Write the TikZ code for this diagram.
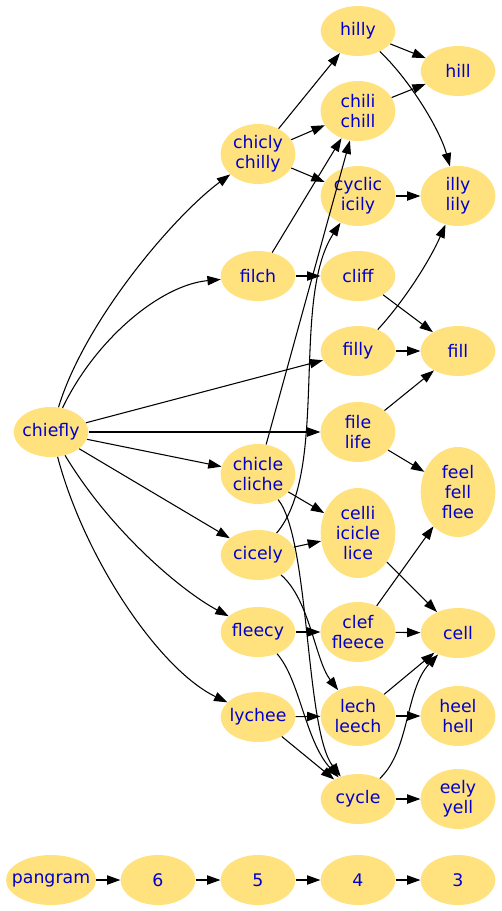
\documentclass[tikz,border=0pt]{standalone}
\usepackage{fontspec}
\setmainfont{DejaVu Sans}
\usepackage{tikz}
\usetikzlibrary{shapes.geometric,arrows.meta}
\definecolor{wordfill}{RGB}{255,226,125}
\definecolor{wordtext}{RGB}{0,0,205}

\begin{document}
\begin{tikzpicture}[x=0.75pt,y=-0.75pt,
    word/.style={ellipse, fill=wordfill, text=wordtext, inner xsep=-8pt, inner ysep=0pt,
        minimum width=56pt, minimum height=37.5pt, align=center, font=\fontsize{13}{15.2}\selectfont},
    two/.style={word, minimum height=45pt},
    three/.style={word, minimum height=67.5pt},
    link/.style={-{Triangle[length=10pt,width=7pt]}, line width=0.8pt}]
    \useasboundingbox (0,0) rectangle (501,911);
    % words
    \node [word] (hilly) at (358,31) {hilly};
    \node [word] (hill) at (458,71) {hill};
    \node [two] (chili) at (358,111) {chili\\chill};
    \node [two] (chicly) at (258,154) {chicly\\chilly};
    \node [two] (cyclic) at (358,196) {cyclic\\icily};
    \node [two] (illy) at (458,196) {illy\\lily};
    \node [word] (filch) at (258,276) {filch};
    \node [word] (cliff) at (358,276) {cliff};
    \node [word] (filly) at (358,351) {filly};
    \node [word] (fill) at (458,351) {fill};
    \node [word] (chiefly) at (51,432) {chiefly};
    \node [two] (file) at (358,432) {file\\life};
    \node [three] (feel) at (458,492) {feel\\fell\\flee};
    \node [two] (chicle) at (258,474) {chicle\\cliche};
    \node [three] (celli) at (358,533) {celli\\icicle\\lice};
    \node [word] (cicely) at (258,555) {cicely};
    \node [word] (fleecy) at (258,632) {fleecy};
    \node [two] (clef) at (358,632) {clef\\fleece};
    \node [word] (cell) at (458,633) {cell};
    \node [word] (lychee) at (258,717) {lychee};
    \node [two] (lech) at (358,716) {lech\\leech};
    \node [two] (heel) at (458,716) {heel\\hell};
    \node [word] (cycle) at (358,799) {cycle};
    \node [two] (eely) at (458,799) {eely\\yell};
    % counts
    \node [word, minimum width=67.5pt] (pangram) at (51,880) {pangram};
    \node [word] (six) at (158,880) {6};
    \node [word] (five) at (258,880) {5};
    \node [word] (four) at (358,880) {4};
    \node [word] (three) at (458,880) {3};

    \draw [link] (chiefly) .. controls (85,320) and (175,215) .. (chicly);
    \draw [link] (chiefly) .. controls (95,340) and (160,285) .. (filch);
    \draw [link] (chiefly) -- (filly);
    \draw [link] (chiefly) -- (file);
    \draw [link] (chiefly) -- (chicle);
    \draw [link] (chiefly) -- (cicely);
    \draw [link] (chiefly) .. controls (110,530) and (180,590) .. (fleecy);
    \draw [link] (chiefly) .. controls (85,560) and (160,670) .. (lychee);
    \draw [link] (chicly) -- (hilly);
    \draw [link] (chicly) -- (chili);
    \draw [link] (chicly) -- (cyclic);
    \draw [link] (filch) -- (chili);
    \draw [link] (filch) -- (cliff);
    \draw [link] (hilly) -- (hill);
    \draw [link] (hilly) .. controls (410,80) and (440,130) .. (illy);
    \draw [link] (chili) -- (hill);
    \draw [link] (cyclic) -- (illy);
    \draw [link] (cliff) -- (fill);
    \draw [link] (filly) .. controls (405,300) and (430,260) .. (illy);
    \draw [link] (filly) -- (fill);
    \draw [link] (file) -- (fill);
    \draw [link] (file) -- (feel);
    \draw [link] (chicle) -- (chili);
    \draw [link] (chicle) -- (celli);
    \draw [link] (chicle) .. controls (310,540) and (305,730) .. (cycle);
    \draw [link] (cicely) .. controls (330,470) and (290,300) .. (cyclic);
    \draw [link] (cicely) -- (celli);
    \draw [link] (cicely) .. controls (310,600) and (315,660) .. (lech);
    \draw [link] (fleecy) -- (clef);
    \draw [link] (fleecy) .. controls (300,680) and (305,740) .. (cycle);
    \draw [link] (lychee) -- (lech);
    \draw [link] (lychee) -- (cycle);
    \draw [link] (clef) -- (cell);
    \draw [link] (clef) -- (feel);
    \draw [link] (celli) -- (cell);
    \draw [link] (lech) -- (cell);
    \draw [link] (lech) -- (heel);
    \draw [link] (cycle) .. controls (410,750) and (405,690) .. (cell);
    \draw [link] (cycle) -- (eely);
    \draw [link] (pangram) -- (six);
    \draw [link] (six) -- (five);
    \draw [link] (five) -- (four);
    \draw [link] (four) -- (three);
\end{tikzpicture}
\end{document}
